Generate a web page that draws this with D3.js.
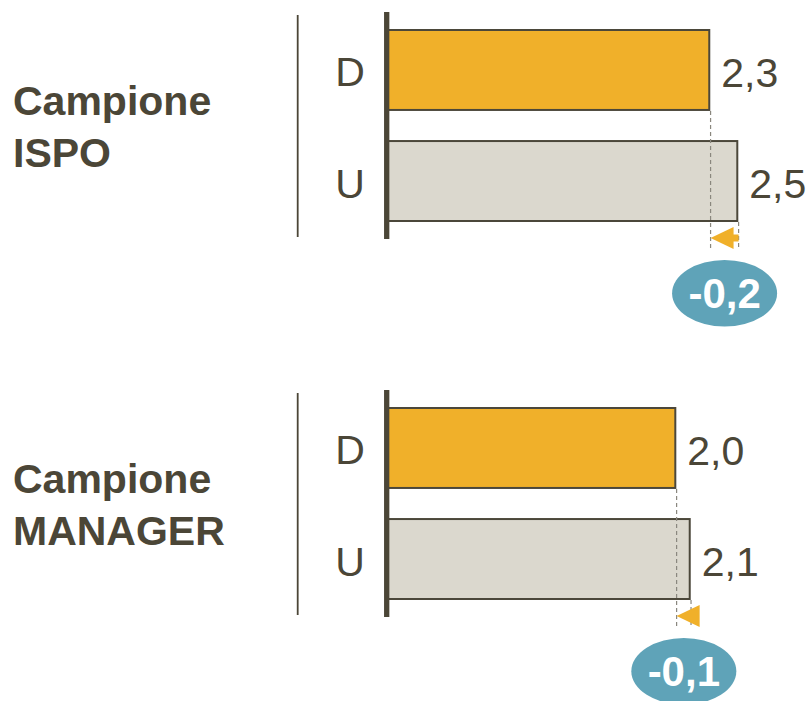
<!DOCTYPE html>
<html><head><meta charset="utf-8">
<script src="https://cdn.jsdelivr.net/npm/d3@7"></script>
<style>html,body{margin:0;padding:0;background:#fff;}svg{display:block;}</style>
</head><body>
<script>
const panelTitles = [["Campione", "ISPO"], ["Campione", "MANAGER"]];
const categories = ["D", "U"];
const valuesD = [2.3, 2.0];
const valuesU = [2.5, 2.1];
const scaleMax = [2.5, 2.43];

const W = 811, H = 701;
const textCol = "#4b4637", orange = "#f0b02a", grey = "#dbd8ce", teal = "#5fa3b8", edge = "#4b473a";
const fmt = v => d3.format(".1f")(v).replace(".", ",").replace("−", "-");

const svg = d3.select("body").append("svg").attr("width", W).attr("height", H);
const offsets = [0, 378];

panelTitles.forEach((title, i) => {
  const g = svg.append("g").attr("transform", `translate(0,${offsets[i]})`);
  const x = d3.scaleLinear().domain([0, scaleMax[i]]).range([387, 737.3]);
  const y = d3.scaleBand().domain(categories).range([30, 221]).paddingInner(0.28).paddingOuter(0);
  const vals = [valuesD[i], valuesU[i]];
  const data = categories.map((c, k) => ({c, v: vals[k]}));

  // title
  const t = g.append("text").attr("x", 13).attr("y", 115)
    .attr("font-family", "Liberation Sans, Arial, sans-serif").attr("font-weight", "bold")
    .attr("font-size", 41).attr("fill", textCol);
  title.forEach((line, k) => t.append("tspan").attr("x", 13).attr("dy", k === 0 ? 0 : 52).text(line));

  // thin separator
  g.append("line").attr("x1", 297.7).attr("x2", 297.7).attr("y1", 15).attr("y2", 237)
    .attr("stroke", textCol).attr("stroke-width", 1.8);

  // bars
  g.selectAll("rect.bar").data(data).join("rect").attr("class", "bar")
    .attr("x", x(0)).attr("y", d => y(d.c)).attr("width", d => x(d.v) - x(0)).attr("height", y.bandwidth())
    .attr("fill", (d, k) => k === 0 ? orange : grey).attr("stroke", edge).attr("stroke-width", 2);

  // axis line
  g.append("line").attr("x1", 386.7).attr("x2", 386.7).attr("y1", 12).attr("y2", 239)
    .attr("stroke", textCol).attr("stroke-width", 5.3);

  // category labels
  g.selectAll("text.cat").data(data).join("text").attr("class", "cat")
    .attr("x", 350).attr("y", d => y(d.c) + y.bandwidth() / 2 + 16.5)
    .attr("text-anchor", "middle").attr("font-family", "Liberation Sans, Arial, sans-serif")
    .attr("font-size", 41).attr("fill", textCol).text(d => d.c);

  // value labels
  g.selectAll("text.val").data(data).join("text").attr("class", "val")
    .attr("x", d => x(d.v) + 12).attr("y", d => y(d.c) + y.bandwidth() / 2 + 16.7)
    .attr("font-family", "Liberation Sans, Arial, sans-serif")
    .attr("font-size", 41).attr("fill", textCol).text(d => fmt(d.v));

  // dashed guides
  const xd = x(vals[0]), xu = x(vals[1]);
  g.append("line").attr("x1", xd + 1.3).attr("x2", xd + 1.3).attr("y1", y("D") + y.bandwidth() + 1).attr("y2", 250)
    .attr("stroke", "#8a877e").attr("stroke-width", 1.2).attr("stroke-dasharray", "4,3");
  g.append("line").attr("x1", xu + 1.3).attr("x2", xu + 1.3).attr("y1", y("U") + y.bandwidth() + 1).attr("y2", 250)
    .attr("stroke", "#8a877e").attr("stroke-width", 1.2).attr("stroke-dasharray", "4,3");

  // arrow from U value to D value
  const ay = 238, tipX = xd + 1.3, triW = 23, triH = 22;
  if (xu - tipX > triW) {
    g.append("rect").attr("x", tipX + triW - 1).attr("y", ay - 3.5).attr("width", xu + 1.3 - (tipX + triW - 1)).attr("height", 7).attr("fill", orange);
  }
  g.append("path").attr("d", `M${tipX},${ay} L${tipX + triW},${ay - triH / 2} L${tipX + triW},${ay + triH / 2} Z`).attr("fill", orange);

  // difference bubble
  const cx = (xd + xu) / 2 + 1.3, cy = 293.3;
  g.append("ellipse").attr("cx", cx).attr("cy", cy).attr("rx", 52.5).attr("ry", 33.3).attr("fill", teal);
  g.append("text").attr("x", cx).attr("y", cy + 14.5).attr("text-anchor", "middle")
    .attr("font-family", "Liberation Sans, Arial, sans-serif").attr("font-weight", "bold")
    .attr("font-size", 42).attr("fill", "#fff").text(fmt(vals[0] - vals[1]));
});
</script>
</body></html>
